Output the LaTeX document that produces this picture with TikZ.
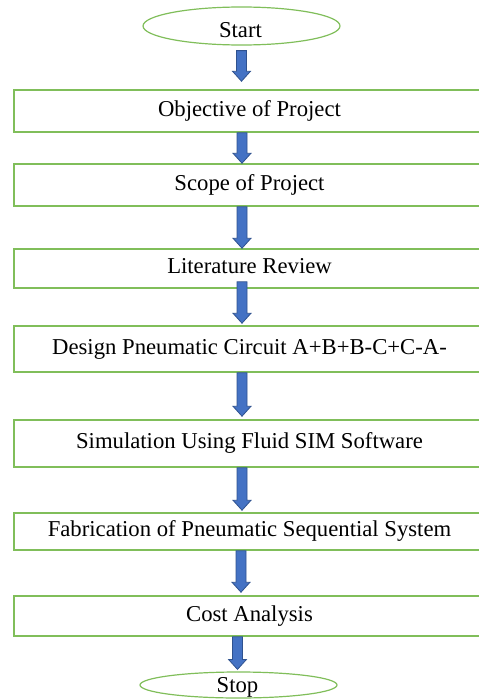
\documentclass[tikz,border=0pt]{standalone}
\usepackage{fontspec}
\setmainfont{Liberation Serif}
\usetikzlibrary{shapes.geometric,calc}
\definecolor{boxgreen}{RGB}{128,190,90}
\definecolor{arrfill}{RGB}{68,114,196}
\definecolor{arrline}{RGB}{47,82,143}
\tikzset{
 stepbox/.style={draw=boxgreen, line width=1.5pt, minimum width=506pt, inner sep=0pt, fill=white},
 steptext/.style={font=\fontsize{22.7}{26}\selectfont, inner sep=0pt, text height=15pt, text depth=5pt},
 term/.style={ellipse, draw=boxgreen, line width=1.2pt, inner sep=0pt, fill=white},
 lbl/.style={font=\fontsize{22.7}{26}\selectfont, anchor=base, inner sep=0pt},
 blockarrow/.style={fill=arrfill, draw=arrline, line width=0.8pt, line join=miter}
}
\newcommand\blkarrow[2]{\path[blockarrow] let \p1=#1, \p2=#2 in (\x1-5pt,\y1) -- (\x1+5pt,\y1) -- (\x1+5pt,\y2+10pt) -- (\x1+9pt,\y2+10pt) -- (\x1,\y2) -- (\x1-9pt,\y2+10pt) -- (\x1-5pt,\y2+10pt) -- cycle;}
% #1 name, #2 y centre, #3 height, #4 text
\newcommand\mystep[4]{%
 \node[stepbox, minimum height=#3pt] (#1) at (267,#2) {};
 \node[steptext] (#1t) at (249.5,#2) {#4};}
\begin{document}
\begin{tikzpicture}[x=1pt,y=-1pt]
\useasboundingbox (0,0) rectangle (479,699);
\clip (0,0) rectangle (479,699);
\node[term, minimum width=197pt, minimum height=38pt] (start) at (241.5,26) {};
\node[lbl] (startlbl) at (240.5,37) {Start};
\mystep{obj}{111}{42}{Objective of Project}
\mystep{scope}{185}{42}{Scope of Project}
\mystep{lit}{268.5}{39}{Literature Review}
\mystep{design}{349}{46}{Design Pneumatic Circuit A+B+B-C+C-A-}
\mystep{sim}{443.5}{47}{Simulation Using Fluid SIM Software}
\mystep{fab}{531.5}{37}{Fabrication of Pneumatic Sequential System}
\mystep{cost}{616}{40}{Cost Analysis}
\node[term, minimum width=197pt, minimum height=26pt] (stop) at (238.5,685) {};
\node[lbl] (stoplbl) at (237.5,692) {Stop};
\blkarrow{([yshift=-5pt]start.south)}{([yshift=8pt]obj.north)}
\blkarrow{([xshift=-25pt]obj.south)}{(scope.north)}
\blkarrow{([xshift=-25pt]scope.south)}{(lit.north)}
\blkarrow{([xshift=-25pt,yshift=7pt]lit.south)}{([yshift=2pt]design.north)}
\blkarrow{([xshift=-25pt]design.south)}{([yshift=3pt]sim.north)}
\blkarrow{([xshift=-25pt]sim.south)}{([yshift=2pt]fab.north)}
\blkarrow{([xshift=-26pt]fab.south)}{([yshift=3pt]cost.north)}
\blkarrow{([xshift=-29.5pt]cost.south)}{([yshift=2pt]stop.north)}
\end{tikzpicture}
\end{document}
